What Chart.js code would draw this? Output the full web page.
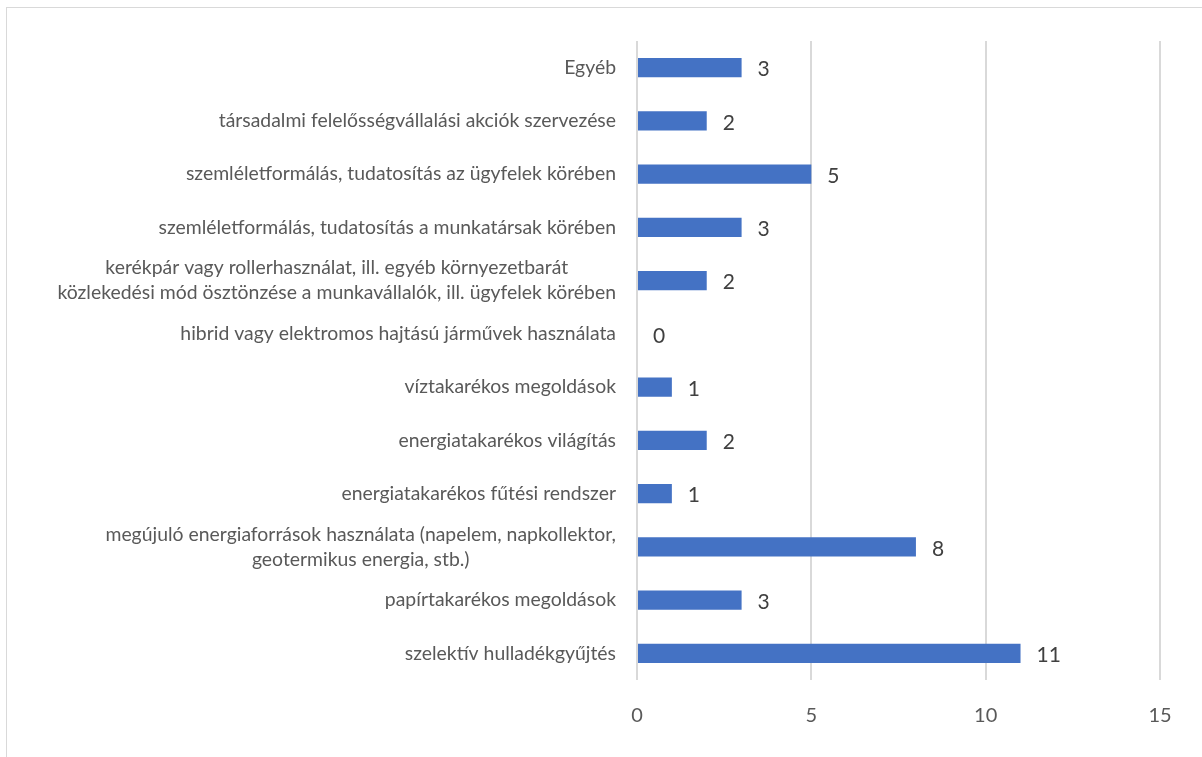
<!DOCTYPE html>
<html>
<head>
<meta charset="utf-8">
<script src="https://cdn.jsdelivr.net/npm/chart.js@4"></script>
<style>
  html, body { margin: 0; padding: 0; background: #fff; }
  #wrap { position: relative; width: 1202px; height: 757px; overflow: hidden; }
  #frame { position: absolute; left: 6px; top: 7px; width: 1220px; height: 800px;
           border: 1px solid #d9d9d9; box-sizing: border-box; }
  canvas { position: absolute; left: 0; top: 0; }
</style>
</head>
<body>
<div id="wrap">
  <div id="frame"></div>
  <canvas id="chart" width="1202" height="757"></canvas>
</div>
<script>
// categories, top to bottom
const categories = [
    'Egyéb',
    'társadalmi felelősségvállalási akciók szervezése',
    'szemléletformálás, tudatosítás az ügyfelek körében',
    'szemléletformálás, tudatosítás a munkatársak körében',
    ['kerékpár vagy rollerhasználat, ill. egyéb környezetbarát', 'közlekedési mód ösztönzése a munkavállalók, ill. ügyfelek körében'],
    'hibrid vagy elektromos hajtású járművek használata',
    'víztakarékos megoldások',
    'energiatakarékos világítás',
    'energiatakarékos fűtési rendszer',
    ['megújuló energiaforrások használata (napelem, napkollektor,', 'geotermikus energia, stb.)'],
    'papírtakarékos megoldások',
    'szelektív hulladékgyűjtés'
];
const counts = [3, 2, 5, 3, 2, 0, 1, 2, 1, 8, 3, 11];
const xTicks = [0, 5, 10, 15];

const FONT = 'Lato';

// category labels: block right aligned, lines centered inside block
const categoryLabels = {
    id: 'categoryLabels',
    afterDraw(chart) {
        const ctx = chart.ctx;
        const y = chart.scales.y;
        const right = chart.chartArea.left - 21;
        const lineH = 25;
        ctx.save();
        ctx.font = '19.4px "' + FONT + '"';
        ctx.fillStyle = '#595959';
        ctx.textBaseline = 'middle';
        categories.forEach((lab, i) => {
            const lines = Array.isArray(lab) ? lab : [lab];
            const w = Math.max(...lines.map(l => ctx.measureText(l).width));
            const cx = right - w / 2;
            const cy = y.getPixelForValue(i);
            ctx.textAlign = 'center';
            lines.forEach((l, k) => {
                ctx.fillText(l, cx, cy + (k - (lines.length - 1) / 2) * lineH);
            });
        });
        ctx.restore();
    }
};

// value labels at the end of each bar
const valueLabels = {
    id: 'valueLabels',
    afterDatasetsDraw(chart) {
        const ctx = chart.ctx;
        const meta = chart.getDatasetMeta(0);
        ctx.save();
        ctx.font = '21px "' + FONT + '"';
        ctx.fillStyle = '#404040';
        ctx.textAlign = 'left';
        ctx.textBaseline = 'middle';
        meta.data.forEach((bar, i) => {
            ctx.fillText(String(counts[i]), bar.x + 16, bar.y + 2);
        });
        ctx.restore();
    }
};

new Chart(document.getElementById('chart'), {
    type: 'bar',
    data: {
        labels: categories,
        datasets: [{
            data: counts,
            backgroundColor: '#4472C4',
            borderWidth: 0,
            barPercentage: 0.36,
            categoryPercentage: 1
        }]
    },
    options: {
        indexAxis: 'y',
        responsive: false,
        animation: false,
        layout: { padding: { left: 637, right: 42, top: 41, bottom: 5 } },
        plugins: { legend: { display: false }, tooltip: { enabled: false } },
        scales: {
            x: {
                min: 0,
                max: 15,
                afterBuildTicks(scale) { scale.ticks = xTicks.map(v => ({ value: v })); },
                grid: { color: '#d9d9d9', lineWidth: 2, drawTicks: false },
                border: { display: false },
                ticks: {
                    padding: 24,
                    color: '#595959',
                    font: { family: FONT, size: 20 }
                }
            },
            y: {
                display: false
            }
        }
    },
    plugins: [categoryLabels, valueLabels]
});
</script>
</body>
</html>
